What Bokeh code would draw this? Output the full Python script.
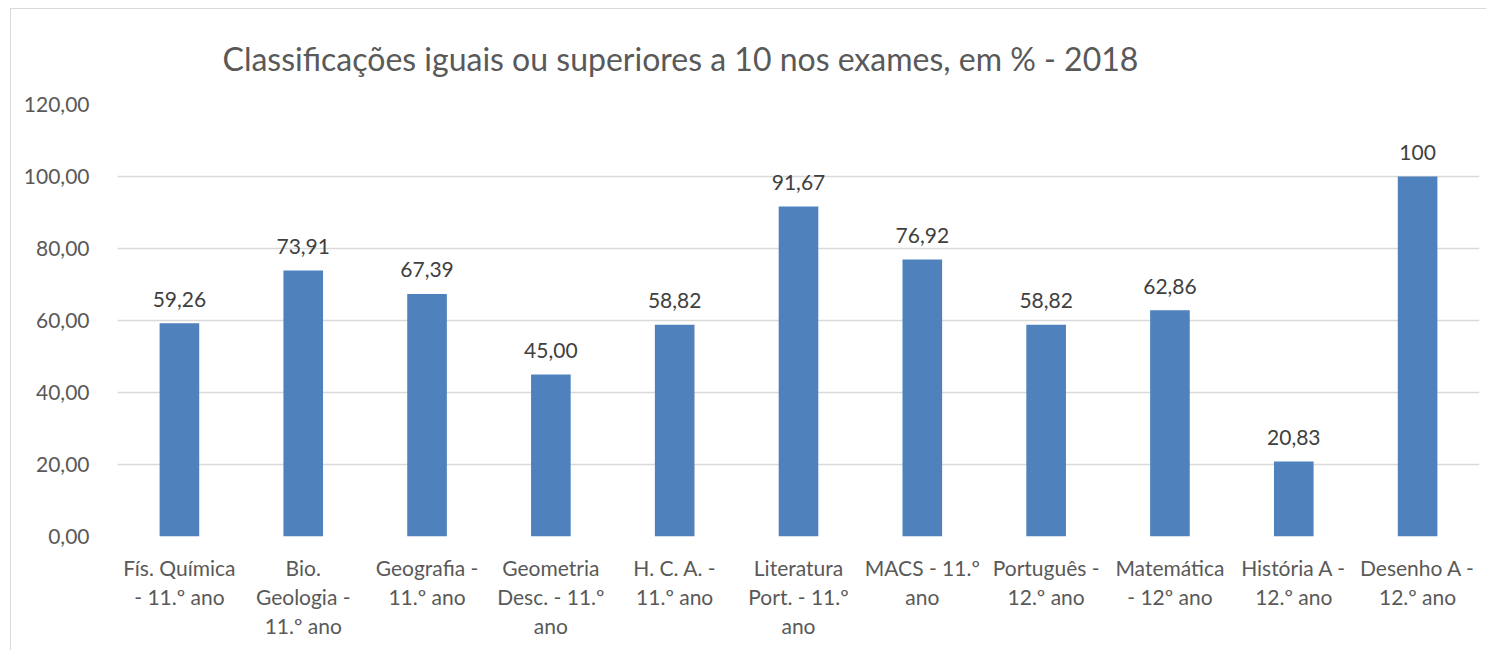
from bokeh.plotting import figure
from bokeh.models import FactorRange, Range1d, FixedTicker, ColumnDataSource
from bokeh.core.properties import value
from bokeh.embed import file_html
from bokeh.resources import INLINE

categories = ["Fís. Química\n- 11.º ano", "Bio.\nGeologia -\n11.º ano", "Geografia -\n11.º ano",
              "Geometria\nDesc. - 11.º\nano", "H. C. A. -\n11.º ano", "Literatura\nPort. - 11.º\nano",
              "MACS - 11.º\nano", "Português -\n12.º ano", "Matemática\n- 12º ano",
              "História A -\n12.º ano", "Desenho A -\n12.º ano"]
values = [59.26, 73.91, 67.39, 45.00, 58.82, 91.67, 76.92, 58.82, 62.86, 20.83, 100]
value_labels = ["59,26", "73,91", "67,39", "45,00", "58,82", "91,67", "76,92", "58,82", "62,86", "20,83", "100"]
y_ticks = [0, 20, 40, 60, 80, 100, 120]
y_tick_labels = ["0,00", "20,00", "40,00", "60,00", "80,00", "100,00", "120,00"]
title_text = "Classificações iguais ou superiores a 10 nos exames, em % - 2018"

FONT = "Lato"
TXT = "#595959"

src = ColumnDataSource(dict(cat=categories, val=values, lab=value_labels))

p = figure(width=1476, height=642, output_backend="svg", toolbar_location=None,
           x_range=FactorRange(*categories, range_padding=0, factor_padding=0),
           y_range=Range1d(0, 120),
           min_border_left=106, min_border_right=8, min_border_top=95, min_border_bottom=115)

p.styles = {"margin-left": "10px", "margin-top": "8px",
            "border-left": "1px solid #D9D9D9", "border-top": "1px solid #D9D9D9"}

p.title.text = title_text
p.title.text_font = FONT
p.title.text_font_size = "32px"
p.title.text_font_style = "normal"
p.title.text_color = TXT
p.title.align = "left"
p.title.offset = 105
p.title.standoff = 53

p.vbar(x="cat", top="val", width=0.32, source=src, fill_color="#4F81BD", line_color=None)
p.text(x="cat", y="val", text="lab", source=src, text_align="center", text_baseline="alphabetic",
       y_offset=-24, text_font=value(FONT), text_font_size="21px", text_color="#404040")

p.outline_line_color = None
p.background_fill_color = "white"
p.border_fill_color = "white"
p.xgrid.grid_line_color = None
p.ygrid.grid_line_color = "#D9D9D9"
p.ygrid.grid_line_width = 1.5

p.yaxis.ticker = FixedTicker(ticks=y_ticks)
p.yaxis.major_label_overrides = {t: l for t, l in zip(y_ticks, y_tick_labels)}
p.yaxis.axis_line_color = None
p.yaxis.major_tick_line_color = None
p.yaxis.minor_tick_line_color = None
p.yaxis.major_label_standoff = 22
p.yaxis.major_label_text_font = FONT
p.yaxis.major_label_text_font_size = "21px"
p.yaxis.major_label_text_color = TXT

p.xaxis.axis_line_color = None
p.xaxis.major_tick_line_color = None
p.xaxis.major_label_standoff = 12
p.xaxis.major_label_text_font = FONT
p.xaxis.major_label_text_font_size = "21px"
p.xaxis.major_label_text_color = TXT
p.xaxis.major_label_text_line_height = 1.16
p.xaxis.major_label_orientation = "horizontal"

open("out.html", "w").write(file_html(p, INLINE))
